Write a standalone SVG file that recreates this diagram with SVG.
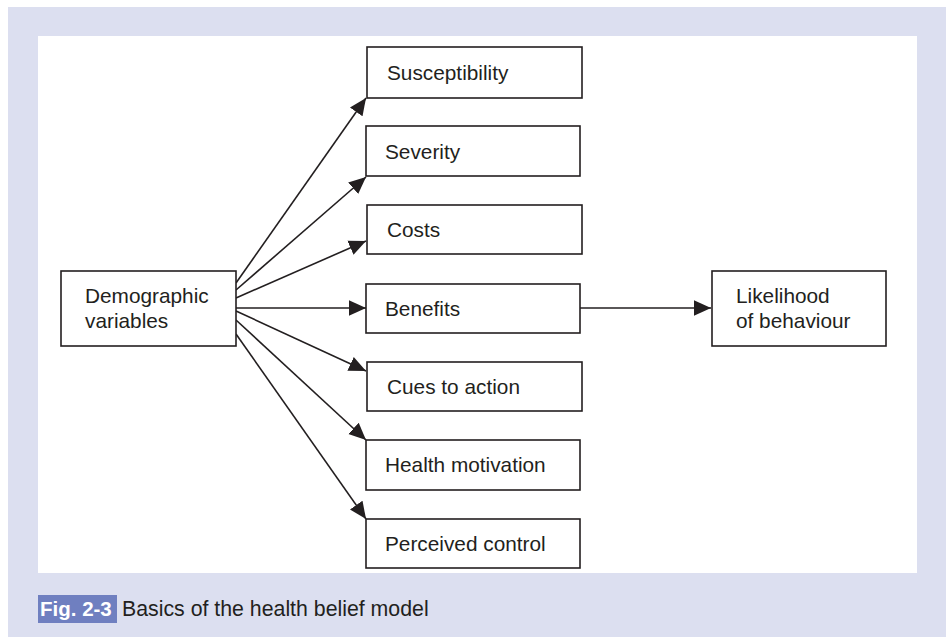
<svg xmlns="http://www.w3.org/2000/svg" width="947" height="637" viewBox="0 0 947 637">
<style>
.box{fill:#fff;stroke:#231f20;stroke-width:1.6}
.t{font-family:"Liberation Sans",Arial,sans-serif;font-size:20.8px;fill:#231f20}
.c line{stroke:#231f20;stroke-width:1.6}
</style>
<defs>
<marker id="ah" viewBox="0 0 10 10" refX="10" refY="5" markerWidth="17" markerHeight="17" markerUnits="userSpaceOnUse" orient="auto">
<path d="M0,0.5 L10,5 L0,9.5 z" fill="#231f20"/>
</marker>
</defs>
<rect width="947" height="637" fill="#fff"/>
<rect x="8" y="7" width="938" height="630" fill="#dcdff0"/>
<rect x="38" y="36" width="879" height="537" fill="#fff"/>
<g id="caption">
<rect x="38" y="595" width="79" height="28" fill="#6f7fc0"/>
<text x="40" y="616" font-family="Liberation Sans,Arial,sans-serif" font-size="20.5" font-weight="bold" fill="#fff">Fig. 2-3</text>
<text x="122" y="616" class="t" style="font-size:21.3px">Basics of the health belief model</text>
</g>
<g class="c" id="connectors">
<line x1="236" y1="283" x2="366" y2="98" marker-end="url(#ah)"/>
<line x1="236" y1="290" x2="366" y2="177" marker-end="url(#ah)"/>
<line x1="236" y1="298" x2="366" y2="241" marker-end="url(#ah)"/>
<line x1="236" y1="308" x2="366" y2="308" marker-end="url(#ah)"/>
<line x1="236" y1="311" x2="366" y2="371" marker-end="url(#ah)"/>
<line x1="236" y1="320" x2="366" y2="440" marker-end="url(#ah)"/>
<line x1="236" y1="334" x2="366" y2="519" marker-end="url(#ah)"/>
<line x1="580" y1="308" x2="711" y2="308" marker-end="url(#ah)"/>
</g>
<g id="demographic"><rect class="box" x="61" y="271" width="175" height="75"/><text class="t" x="85" y="303">Demographic</text><text class="t" x="85" y="328">variables</text></g>
<g id="susceptibility"><rect class="box" x="367" y="47" width="215" height="51"/><text class="t" x="387" y="80">Susceptibility</text></g>
<g id="severity"><rect class="box" x="366" y="126" width="214" height="50"/><text class="t" x="385" y="159">Severity</text></g>
<g id="costs"><rect class="box" x="367" y="205" width="215" height="49"/><text class="t" x="387" y="237">Costs</text></g>
<g id="benefits"><rect class="box" x="366" y="284" width="214" height="49"/><text class="t" x="385" y="316">Benefits</text></g>
<g id="cues"><rect class="box" x="367" y="362" width="215" height="49"/><text class="t" x="387" y="394">Cues to action</text></g>
<g id="health"><rect class="box" x="366" y="440" width="214" height="50"/><text class="t" x="385" y="472">Health motivation</text></g>
<g id="control"><rect class="box" x="366" y="519" width="214" height="49"/><text class="t" x="385" y="551">Perceived control</text></g>
<g id="likelihood"><rect class="box" x="712" y="271" width="174" height="75"/><text class="t" x="736" y="303">Likelihood</text><text class="t" x="736" y="328">of behaviour</text></g>
</svg>
